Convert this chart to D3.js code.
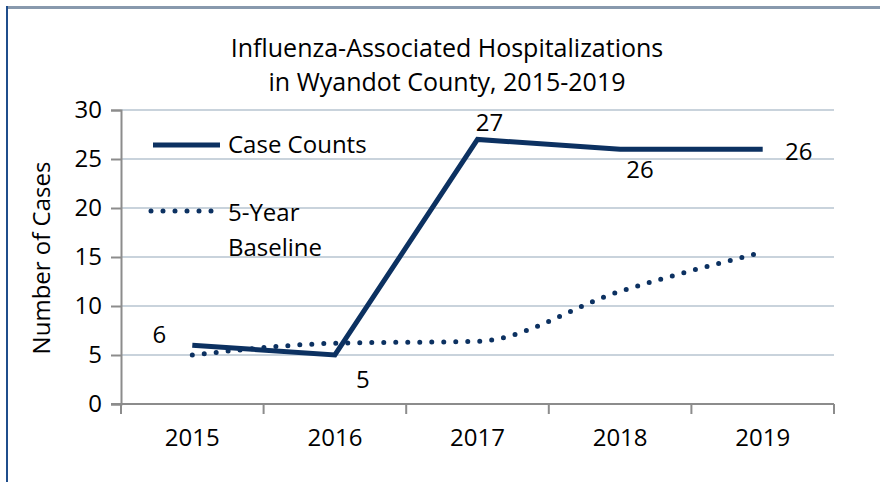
<!DOCTYPE html>
<html>
  <head>
    <meta charset="utf-8">
    <title>Influenza-Associated Hospitalizations</title>
    <script src="https://d3js.org/d3.v7.min.js"></script>
    <style>
      body { margin: 0; background: #fff; }
      svg text { font-family: "Open Sans", "Noto Sans", sans-serif; fill: #000; }
    </style>
  </head>
  <body>
    <svg id="svg" width="880" height="482"></svg>
    <script>
      // data
      var years = ["2015", "2016", "2017", "2018", "2019"];
      var caseCounts = [6, 5, 27, 26, 26];
      var baseline = [5, 6.2, 6.4, 11.5, 15.5];
      var yTicks = [0, 5, 10, 15, 20, 25, 30];
      var titleLines = ["Influenza-Associated Hospitalizations", "in Wyandot County, 2015-2019"];

      var navy = "#0c3161";
      var fs = "24px";
      var svg = d3.select("#svg");

      // frame
      svg.append("line").attr("x1", 6).attr("x2", 880).attr("y1", 7.5).attr("y2", 7.5)
        .attr("stroke", "#8899ad").attr("stroke-width", 3);
      svg.append("line").attr("x1", 7).attr("x2", 7).attr("y1", 6).attr("y2", 482)
        .attr("stroke", "#1f4e8c").attr("stroke-width", 2);

      // scales
      var x = d3.scaleBand().domain(years).range([121, 834]);
      var y = d3.scaleLinear().domain([0, 30]).range([404, 110]);
      var cx = function(d, i) { return x(years[i]) + x.bandwidth() / 2; };

      // title
      svg.append("text").attr("x", 447).attr("text-anchor", "middle")
        .style("font-size", "25px")
        .selectAll("tspan").data(titleLines).enter().append("tspan")
          .attr("x", 447).attr("y", function(d, i) { return 57 + i * 34; })
          .text(function(d) { return d; });

      // gridlines
      svg.append("g").selectAll("line").data(yTicks.slice(1)).enter().append("line")
        .attr("x1", 121).attr("x2", 834)
        .attr("y1", function(d) { return y(d); }).attr("y2", function(d) { return y(d); })
        .attr("stroke", "#c9d3dc").attr("stroke-width", 2);

      // y axis
      var yAxis = svg.append("g").attr("transform", "translate(121,0)")
        .call(d3.axisLeft(y).tickValues(yTicks).tickSize(10).tickPadding(9));
      yAxis.select(".domain").attr("stroke", "#8c8c8c").attr("stroke-width", 2);
      yAxis.selectAll(".tick line").attr("stroke", "#8c8c8c").attr("stroke-width", 2);
      yAxis.selectAll("text").style("font-size", fs).style("font-family", "Open Sans, sans-serif")
        .attr("fill", "#000");

      // x axis
      var xAxis = svg.append("g").attr("transform", "translate(0,404)")
        .call(d3.axisBottom(x).tickSize(0).tickPadding(25));
      xAxis.select(".domain").attr("stroke", "#8c8c8c").attr("stroke-width", 2)
        .attr("d", "M111,0H834");
      xAxis.selectAll("text").style("font-size", fs).style("font-family", "Open Sans, sans-serif")
        .attr("fill", "#000");
      svg.append("g").selectAll("line").data(d3.range(years.length + 1)).enter().append("line")
        .attr("x1", function(d) { return 121 + d * x.bandwidth(); })
        .attr("x2", function(d) { return 121 + d * x.bandwidth(); })
        .attr("y1", 404).attr("y2", 414)
        .attr("stroke", "#8c8c8c").attr("stroke-width", 2);

      // axis title
      svg.append("text").attr("transform", "translate(42,258) rotate(-90)")
        .attr("text-anchor", "middle").attr("dy", "0.35em").style("font-size", fs).text("Number of Cases");

      // lines
      var caseLine = d3.line().x(cx).y(function(d) { return y(d); });
      var baseLine = d3.line().x(cx).y(function(d) { return y(d); }).curve(d3.curveMonotoneX);
      svg.append("path").datum(baseline).attr("d", baseLine)
        .attr("fill", "none").attr("stroke", navy).attr("stroke-width", 5)
        .attr("stroke-linecap", "round").attr("stroke-dasharray", "0 12");
      svg.append("path").datum(caseCounts).attr("d", caseLine)
        .attr("fill", "none").attr("stroke", navy).attr("stroke-width", 5);

      // data labels
      var labelOffsets = [[-33, -11], [28, 25], [12, -17], [20, 20], [36, 2]];
      svg.append("g").selectAll("text").data(caseCounts).enter().append("text")
        .attr("x", function(d, i) { return cx(d, i) + labelOffsets[i][0]; })
        .attr("y", function(d, i) { return y(d) + labelOffsets[i][1]; })
        .attr("text-anchor", "middle").attr("dy", "0.35em")
        .style("font-size", fs)
        .text(function(d) { return d; });

      // legend
      var legend = svg.append("g");
      legend.append("line").attr("x1", 153).attr("x2", 220).attr("y1", 145).attr("y2", 145)
        .attr("stroke", navy).attr("stroke-width", 5);
      legend.append("text").attr("x", 228).attr("y", 145).attr("dy", "0.35em")
        .style("font-size", fs).text("Case Counts");
      legend.append("line").attr("x1", 151).attr("x2", 218).attr("y1", 211).attr("y2", 211)
        .attr("stroke", navy).attr("stroke-width", 5)
        .attr("stroke-linecap", "round").attr("stroke-dasharray", "0 12");
      legend.append("text").attr("x", 228).attr("y", 213).attr("dy", "0.35em")
        .style("font-size", fs).text("5-Year");
      legend.append("text").attr("x", 228).attr("y", 248).attr("dy", "0.35em")
        .style("font-size", fs).text("Baseline");
    </script>
  </body>
</html>
